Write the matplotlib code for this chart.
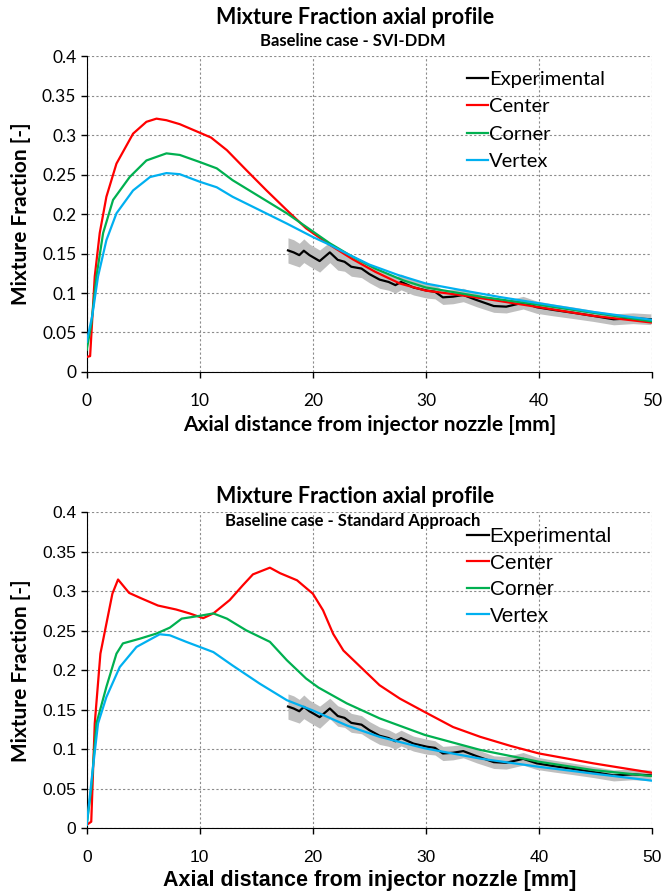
import numpy as np
import matplotlib
matplotlib.use("Agg")
from matplotlib import pyplot as plt
from matplotlib.lines import Line2D

# experimental data (same in both panels)
exp_x = [17.8, 18.3, 18.8, 19.2, 19.7, 20.6, 21.5, 22.2, 22.8, 23.4, 24.3, 25.0, 25.9,
         26.7, 27.3, 27.8, 28.9, 30.1, 30.8, 31.5, 32.4, 33.3, 34.5, 36.0, 37.1, 38.6,
         39.8, 41.3, 43.0, 44.8, 46.6, 48.3, 49.9]
exp_y = [0.154, 0.1515, 0.148, 0.1536, 0.148, 0.1405, 0.1515, 0.142, 0.1396, 0.1333,
         0.131, 0.124, 0.117, 0.114, 0.110, 0.114, 0.107, 0.103, 0.1016, 0.0945, 0.0954,
         0.0975, 0.091, 0.0835, 0.0827, 0.0877, 0.082, 0.0785, 0.075, 0.071, 0.0667,
         0.068, 0.0667]
exp_err = [0.016, 0.016, 0.015, 0.015, 0.014, 0.014, 0.013, 0.013, 0.012, 0.012,
           0.0115, 0.011, 0.011, 0.0105, 0.010, 0.010, 0.0095, 0.0095, 0.009, 0.009,
           0.009, 0.0085, 0.0085, 0.008, 0.008, 0.008, 0.0078, 0.0075, 0.0073, 0.007,
           0.007, 0.0068, 0.0068]

# top panel: SVI-DDM
top_red_x = [0, 0.3, 0.71, 1.15, 1.74, 2.63, 4.1, 5.28, 6.17, 7.05, 8.23, 9.7, 11.0,
             12.4, 14.1, 15.9, 17.7, 19.4, 21.5, 23.5, 25.5, 27.7, 30.0, 33.0, 36.0,
             40.0, 44.8, 50.0]
top_red_y = [0.019, 0.02, 0.121, 0.176, 0.222, 0.264, 0.302, 0.317, 0.321, 0.319, 0.314,
             0.305, 0.297, 0.281, 0.256, 0.230, 0.205, 0.182, 0.161, 0.143, 0.127,
             0.112, 0.103, 0.0975, 0.091, 0.082, 0.071, 0.0625]
top_green_x = [0, 0.4, 0.86, 1.45, 2.33, 3.8, 5.28, 7.05, 8.23, 10.0, 11.5, 12.9, 15.3,
               17.7, 20.0, 21.5, 23.5, 25.5, 28.0, 30.0, 35.0, 40.0, 45.0, 50.0]
top_green_y = [0.028, 0.06, 0.121, 0.176, 0.218, 0.247, 0.268, 0.277, 0.275, 0.266,
               0.258, 0.243, 0.222, 0.201, 0.178, 0.163, 0.146, 0.131, 0.116, 0.107,
               0.095, 0.085, 0.0745, 0.064]
top_blue_x = [0, 0.5, 1.0, 1.74, 2.63, 4.1, 5.6, 7.05, 8.23, 10.0, 11.5, 12.9, 15.3,
              17.7, 20.0, 21.5, 23.0, 25.0, 27.5, 30.0, 33.0, 36.5, 40.0, 44.8, 50.0]
top_blue_y = [0.038, 0.072, 0.121, 0.167, 0.201, 0.230, 0.247, 0.252, 0.2506, 0.241,
              0.234, 0.222, 0.205, 0.188, 0.171, 0.161, 0.150, 0.136, 0.123, 0.112,
              0.104, 0.095, 0.087, 0.076, 0.066]

# bottom panel: Standard Approach
bot_red_x = [0, 0.4, 0.71, 1.21, 1.74, 2.27, 2.77, 3.75, 4.84, 6.3, 7.9, 9.1, 10.3,
             11.2, 12.65, 13.8, 14.7, 16.2, 17.1, 18.6, 20.0, 20.9, 21.8, 22.7, 23.9,
             25.9, 27.7, 29.9, 32.4, 34.8, 37.5, 40.0, 44.8, 50.0]
bot_red_y = [0.004, 0.008, 0.1325, 0.221, 0.259, 0.297, 0.315, 0.298, 0.291, 0.282,
             0.277, 0.272, 0.266, 0.272, 0.289, 0.3076, 0.3215, 0.330, 0.323, 0.314,
             0.297, 0.276, 0.246, 0.225, 0.2085, 0.181, 0.164, 0.147, 0.128, 0.1156,
             0.104, 0.0945, 0.082, 0.070]
bot_green_x = [0, 0.4, 0.86, 1.74, 2.63, 3.2, 4.7, 6.17, 7.35, 8.4, 10.0, 11.2, 12.4,
               14.1, 16.2, 17.7, 19.4, 20.5, 23.0, 25.9, 29.9, 34.8, 40.0, 44.8, 50.0]
bot_green_y = [0.004, 0.05, 0.1325, 0.179, 0.221, 0.234, 0.240, 0.2465, 0.254, 0.2654,
               0.269, 0.272, 0.2654, 0.2506, 0.236, 0.2127, 0.1895, 0.178, 0.158,
               0.139, 0.118, 0.099, 0.084, 0.0734, 0.0658]
bot_blue_x = [0, 0.5, 1.0, 1.74, 2.92, 4.4, 6.46, 7.35, 8.8, 10.0, 11.2, 12.9, 15.3,
              17.7, 20.0, 23.0, 25.9, 29.9, 34.8, 40.0, 44.8, 50.0]
bot_blue_y = [0.004, 0.07, 0.1325, 0.166, 0.204, 0.2295, 0.2456, 0.2443, 0.236, 0.2295,
              0.223, 0.206, 0.183, 0.162, 0.149, 0.130, 0.1156, 0.101, 0.088, 0.0776,
              0.069, 0.060]

legend_names = ['Experimental', 'Center', 'Corner', 'Vertex']
colors = ['black', '#FF0000', '#00B050', '#00B0F0']
titles = ['Mixture Fraction axial profile', 'Mixture Fraction axial profile']
subtitles = ['Baseline case - SVI-DDM', 'Baseline case - Standard Approach']

FONT_A = ['Lato', 'DejaVu Sans']
FONT_B = ['Liberation Sans Narrow', 'Liberation Sans', 'DejaVu Sans']

fig = plt.figure(figsize=(6.62, 8.94), dpi=100)


def panel(rect, curves, font, title, subtitle, title_y, xlab_size, leg_size, leg_sp):
    ax = fig.add_axes(rect)
    ax.fill_between(exp_x, np.array(exp_y) - np.array(exp_err),
                    np.array(exp_y) + np.array(exp_err), color='#BFBFBF', lw=0, zorder=2)
    ax.plot(exp_x, exp_y, color='black', lw=1.6, zorder=3)
    for (cx, cy), c in zip(curves, colors[1:]):
        ax.plot(cx, cy, color=c, lw=1.6, zorder=4, solid_joinstyle='round')
    ax.set_xlim(0, 50)
    ax.set_ylim(0, 0.4)
    ax.set_xticks(np.arange(0, 51, 10))
    ax.set_yticks(np.arange(0, 0.401, 0.05))
    ax.set_yticklabels(['0', '0.05', '0.1', '0.15', '0.2', '0.25', '0.3', '0.35', '0.4'])
    ax.grid(True, color='#8C8C8C', linestyle=(0, (2, 2)), lw=0.8)
    ax.set_axisbelow(True)
    for s in ['top', 'right']:
        ax.spines[s].set_visible(False)
    ax.tick_params(direction='out', length=4, width=1, labelsize=12.5)
    ax.tick_params(axis='x', pad=11.5)
    for lab in ax.get_xticklabels() + ax.get_yticklabels():
        lab.set_family(font)
    ax.set_xlabel('Axial distance from injector nozzle [mm]', fontsize=xlab_size,
                  fontweight='bold', family=font, labelpad=4)
    ax.set_ylabel('Mixture Fraction [-]', fontsize=15, fontweight='bold',
                  family=FONT_A, labelpad=8)
    handles = [Line2D([0], [0], color=c, lw=1.6) for c in colors]
    ax.legend(handles, legend_names, loc='upper left', bbox_to_anchor=(0.672, 0.953),
              borderpad=0, borderaxespad=0, frameon=False, handlelength=1.05,
              handletextpad=0.05, labelspacing=leg_sp,
              prop={'family': font, 'size': leg_size})
    fig.text(0.536, title_y, title, ha='center', va='center', fontsize=15.5,
             fontweight='bold', family=FONT_A)
    fig.text(0.533, title_y - 0.027, subtitle, ha='center', va='center', fontsize=12,
             fontweight='bold', family=FONT_A)
    return ax


panel([0.131, 0.584, 0.854, 0.353],
      [(top_red_x, top_red_y), (top_green_x, top_green_y), (top_blue_x, top_blue_y)],
      FONT_A, titles[0], subtitles[0], 1 - 17 / 894, 15, 14.5, 0.5)
panel([0.131, 0.0738, 0.854, 0.353],
      [(bot_red_x, bot_red_y), (bot_green_x, bot_green_y), (bot_blue_x, bot_blue_y)],
      FONT_B, titles[1], subtitles[1], 1 - 497 / 894, 15.5, 15, 0.36)

fig.savefig('out.png', dpi=100)
